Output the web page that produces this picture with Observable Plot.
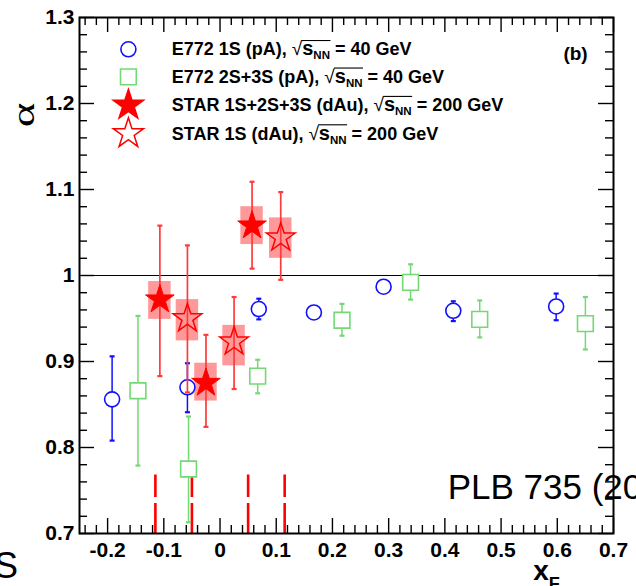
<!DOCTYPE html>
<html><head><meta charset="utf-8">
<script src="https://cdn.jsdelivr.net/npm/d3@7"></script>
<script src="https://cdn.jsdelivr.net/npm/@observablehq/plot@0.6"></script>
<style>html,body{margin:0;padding:0;overflow:hidden;background:#fff}</style>
</head><body><div id="chart"></div>
<script>
// ---------- data ----------
const e772_1S_x  = [-0.192, -0.058, 0.069, 0.167, 0.291, 0.415, 0.598];
const e772_1S_y  = [0.856, 0.870, 0.961, 0.957, 0.987, 0.959, 0.964];
const e772_1S_lo = [0.808, 0.841, 0.949, 0.951, 0.981, 0.947, 0.948];
const e772_1S_hi = [0.906, 0.898, 0.973, 0.963, 0.993, 0.970, 0.979];

const e772_23S_x  = [-0.146, -0.056, 0.067, 0.217, 0.339, 0.462, 0.650];
const e772_23S_y  = [0.866, 0.775, 0.883, 0.948, 0.992, 0.949, 0.944];
const e772_23S_lo = [0.779, 0.713, 0.863, 0.930, 0.972, 0.928, 0.914];
const e772_23S_hi = [0.953, 0.836, 0.902, 0.967, 1.013, 0.971, 0.975];

const star_all_x     = [-0.107, -0.025, 0.057];
const star_all_y     = [0.972, 0.875, 1.058];
const star_all_lo    = [0.883, 0.824, 1.008];
const star_all_hi    = [1.058, 0.931, 1.109];
const star_all_sysLo = [0.949, 0.854, 1.036];
const star_all_sysHi = [0.993, 0.898, 1.080];

const star_1S_x     = [-0.058, 0.025, 0.108];
const star_1S_y     = [0.950, 0.923, 1.044];
const star_1S_lo    = [0.864, 0.868, 0.995];
const star_1S_hi    = [1.035, 0.975, 1.097];
const star_1S_sysLo = [0.924, 0.895, 1.020];
const star_1S_sysHi = [0.972, 0.942, 1.067];
const sysHalfWidth = 0.02;

const dashX = [-0.115, -0.05, 0.05, 0.115];
const dashBottom = 0.7, dashTop = 0.768;
const refLine = [1];

const xMajor = [-0.2, -0.1, 0, 0.1, 0.2, 0.3, 0.4, 0.5, 0.6, 0.7];
const xTickLabels = ["-0.2", "-0.1", "0", "0.1", "0.2", "0.3", "0.4", "0.5", "0.6", "0.7"];
const xMinor = d3.range(-24, 70, 2).map(v => v / 100).filter(v => Math.abs(v * 10 - Math.round(v * 10)) > 1e-6);
const yMajor = [0.7, 0.8, 0.9, 1.0, 1.1, 1.2, 1.3];
const yTickLabels = ["0.7", "0.8", "0.9", "1", "1.1", "1.2", "1.3"];
const yMinor = d3.range(72, 130, 2).map(v => v / 100).filter(v => Math.abs(v * 10 - Math.round(v * 10)) > 1e-6);

const legendLabels = ["E772 1S (pA)", "E772 2S+3S (pA)", "STAR 1S+2S+3S (dAu)", "STAR 1S (dAu)"];
const legendEnergy = ["40", "40", "200", "200"];

// ---------- layout ----------
const W = 636, H = 586, mL = 79, mR = 23, mT = 17, mB = 53;
const FW = W - mL - mR, FH = H - mT - mB;
const FONT = "'Liberation Sans', Arial, Helvetica, sans-serif";
const legendMarkX = -0.163, legendTextX = -0.085;
const legendY = [1.263, 1.231, 1.198, 1.165];
const BLUE = "#1010ff", GREEN = "#74d874", RED = "#ff0000", REDBAR = "#ff3a3a";

const zip = (xs, ys, los, his, sl, sh) => xs.map((x, i) => ({x, y: ys[i], lo: los[i], hi: his[i], sysLo: sl ? sl[i] : null, sysHi: sh ? sh[i] : null}));
const e1 = zip(e772_1S_x, e772_1S_y, e772_1S_lo, e772_1S_hi);
const e2 = zip(e772_23S_x, e772_23S_y, e772_23S_lo, e772_23S_hi);
const sA = zip(star_all_x, star_all_y, star_all_lo, star_all_hi, star_all_sysLo, star_all_sysHi);
const s1 = zip(star_1S_x, star_1S_y, star_1S_lo, star_1S_hi, star_1S_sysLo, star_1S_sysHi);

const cap = {draw(ctx) { ctx.moveTo(-2.5, 0); ctx.lineTo(2.5, 0); }};

function errMarks(data, color, sw) {
  return [
    Plot.ruleX(data, {x: "x", y1: "lo", y2: "hi", stroke: color, strokeWidth: sw}),
    Plot.dot(data, {x: "x", y: "lo", symbol: cap, r: 3, stroke: color, fill: "none", strokeWidth: 2.2}),
    Plot.dot(data, {x: "x", y: "hi", symbol: cap, r: 3, stroke: color, fill: "none", strokeWidth: 2.2})
  ];
}
function sysBox(data) {
  return Plot.rect(data, {x1: d => d.x - sysHalfWidth, x2: d => d.x + sysHalfWidth, y1: "sysLo", y2: "sysHi", fill: RED, fillOpacity: 0.4});
}

const chart = Plot.plot({
  width: W, height: H,
  marginLeft: mL, marginRight: mR, marginTop: mT, marginBottom: mB,
  style: {fontFamily: FONT, fontSize: "20px", background: "white", overflow: "hidden"},
  x: {domain: [-0.25, 0.7], label: null},
  y: {domain: [0.7, 1.3], label: null},
  marks: [
    Plot.ruleY(refLine, {y: d => d, stroke: "black", strokeWidth: 1.2}),
    Plot.ruleX(dashX, {x: d => d, y1: () => dashBottom, y2: () => dashTop, stroke: RED, strokeWidth: 2.6, strokeDasharray: "30,6"}),
    sysBox(sA), sysBox(s1),
    ...errMarks(e2, GREEN, 1.5),
    ...errMarks(e1, BLUE, 1.5),
    Plot.dot(e2, {x: "x", y: "y", symbol: "square", r: 8.9, stroke: GREEN, fill: "white", strokeWidth: 1.6}),
    Plot.dot(e1, {x: "x", y: "y", symbol: "circle", r: 7.5, stroke: BLUE, fill: "white", strokeWidth: 1.6}),
    ...errMarks(sA, REDBAR, 1.7),
    ...errMarks(s1, REDBAR, 1.7),
    Plot.dot(sA, {x: "x", y: "y", symbol: "star", r: 9, fill: RED, stroke: RED, strokeWidth: 1}),
    Plot.dot(s1, {x: "x", y: "y", symbol: "star", r: 9, fill: "none", stroke: RED, strokeWidth: 1.5}),
    // legend markers
    Plot.dot([legendY[0]], {x: () => legendMarkX, y: d => d, symbol: "circle", r: 7.5, stroke: BLUE, fill: "white", strokeWidth: 1.6}),
    Plot.dot([legendY[1]], {x: () => legendMarkX, y: d => d, symbol: "square", r: 8.9, stroke: GREEN, fill: "white", strokeWidth: 1.6}),
    Plot.dot([legendY[2]], {x: () => legendMarkX, y: d => d, symbol: "star", r: 9.5, fill: RED, stroke: RED}),
    Plot.dot([legendY[3]], {x: () => legendMarkX, y: d => d, symbol: "star", r: 9.5, fill: "none", stroke: RED, strokeWidth: 1.5}),
    // annotations
    Plot.text(["(b)"], {x: () => 0.654, y: () => 1.258, textAnchor: "end", fontSize: 19, fontWeight: "bold", fill: "black"}),
    Plot.text(["PLB 735 (2014)"], {x: () => 0.405, y: () => 0.7534, textAnchor: "start", fontSize: 35, fill: "black"}),
    Plot.text(["S"], {x: () => -0.3594, y: () => 0.662, textAnchor: "end", fontSize: 36, fill: "black"}),
    // ticks (inside the frame)
    Plot.tickX(xMajor, {x: d => d, insetTop: FH - 15, stroke: "black", strokeWidth: 1.4}),
    Plot.tickX(xMinor, {x: d => d, insetTop: FH - 8, stroke: "black", strokeWidth: 1.4}),
    Plot.tickX(xMajor, {x: d => d, insetBottom: FH - 15, stroke: "black", strokeWidth: 1.4}),
    Plot.tickX(xMinor, {x: d => d, insetBottom: FH - 8, stroke: "black", strokeWidth: 1.4}),
    Plot.tickY(yMajor, {y: d => d, insetRight: FW - 15, stroke: "black", strokeWidth: 1.4}),
    Plot.tickY(yMinor, {y: d => d, insetRight: FW - 8, stroke: "black", strokeWidth: 1.4}),
    Plot.tickY(yMajor, {y: d => d, insetLeft: FW - 15, stroke: "black", strokeWidth: 1.4}),
    Plot.tickY(yMinor, {y: d => d, insetLeft: FW - 8, stroke: "black", strokeWidth: 1.4}),
    Plot.frame({stroke: "black", strokeWidth: 2}),
    Plot.axisX(xMajor, {anchor: "bottom", tickSize: 0, tickPadding: 9, fontSize: 21, fontWeight: "bold", fill: "black",
      tickFormat: d => xTickLabels[xMajor.indexOf(d)]}),
    Plot.axisY(yMajor, {anchor: "left", tickSize: 0, tickPadding: 5, fontSize: 21, fontWeight: "bold", fill: "black",
      tickFormat: d => yTickLabels[yMajor.indexOf(d)]})
  ]
});
document.getElementById("chart").append(chart);

// ---------- rich text (subscripts, radicals) ----------
const sx = chart.scale("x"), sy = chart.scale("y");
const svg = d3.select(chart);
const g = svg.append("g").attr("font-family", FONT).attr("font-weight", "bold").attr("font-size", 18)
  .attr("fill", "black").attr("text-anchor", "start");
legendLabels.forEach((lab, i) => {
  const base = sy.apply(legendY[i]) + 6.5;
  const t = g.append("text").attr("x", sx.apply(legendTextX)).attr("y", base);
  const pre = lab + ", ";
  t.append("tspan").text(pre);
  t.append("tspan").attr("font-weight", "normal").attr("font-size", 19).text("\u221A");
  t.append("tspan").attr("font-size", 20).text("s");
  t.append("tspan").attr("font-size", 11.5).attr("dy", 4).text("NN");
  t.append("tspan").attr("dy", -4).text(" = " + legendEnergy[i] + " GeV");
  const n = t.node();
  const p = pre.length;
  const x0 = n.getEndPositionOfChar(p).x - 0.8;
  const x1 = n.getEndPositionOfChar(p + 3).x + 0.5;
  g.append("line").attr("x1", x0).attr("x2", x1).attr("y1", base - 14.8).attr("y2", base - 14.8)
    .attr("stroke", "black").attr("stroke-width", 1.1);
});
// x axis title
const xt = svg.append("text").attr("x", sx.apply(0.558)).attr("y", sy.apply(0.6448)).attr("text-anchor", "start")
  .attr("font-family", FONT).attr("font-weight", "bold").attr("font-size", 28).attr("fill", "black");
xt.append("tspan").text("x");
xt.append("tspan").attr("font-size", 18).attr("dy", 9.5).text("F");
// y axis title
svg.append("text").attr("transform", `translate(${sx.apply(-0.25) - 45},${sy.apply(1.186)}) rotate(-90) scale(1.3,0.85)`)
  .attr("text-anchor", "middle").attr("font-family", "'Liberation Serif', 'DejaVu Serif', serif")
  .attr("font-size", 36).attr("fill", "black").text("\u03B1");
</script>
</body></html>
